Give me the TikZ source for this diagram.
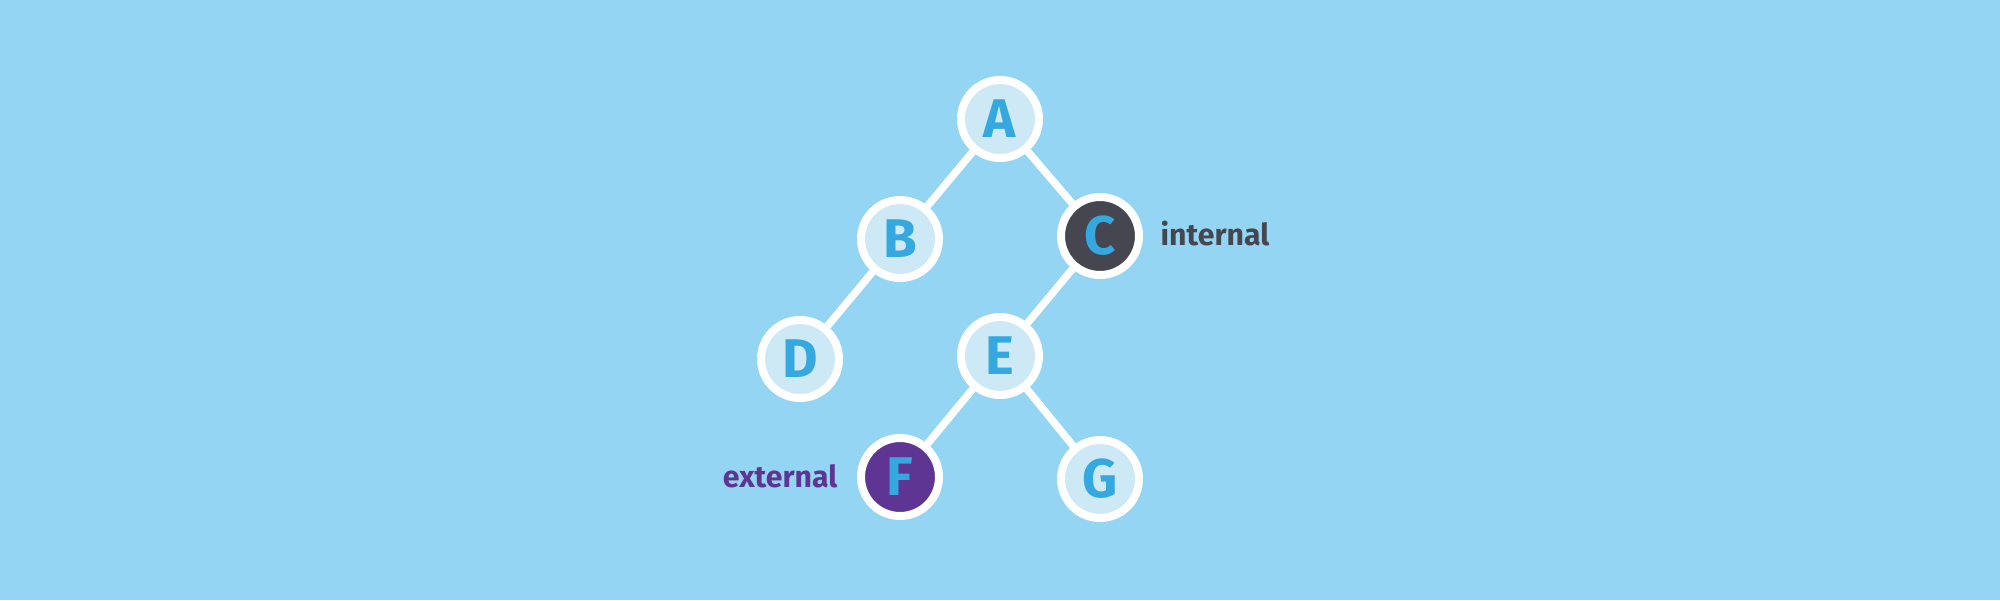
\documentclass[tikz,border=0pt]{standalone}
\usepackage{fontspec}
\newfontfamily\handfont{Fira Sans}
\definecolor{bgblue}{HTML}{93D5F2}
\definecolor{paleblue}{HTML}{CDE9F6}
\definecolor{letterblue}{HTML}{35A8E0}
\definecolor{darkgrey}{HTML}{45464F}
\definecolor{deeppurple}{HTML}{5E3592}
\tikzset{
	vertex/.style={circle, draw=white, line width=0.08cm, fill=paleblue, minimum size=0.78cm, inner sep=0pt, text=letterblue, font=\handfont\bfseries\fontsize{15.5}{15.5}\selectfont},
	branch/.style={draw=white, line width=0.075cm},
	tag/.style={inner sep=0pt, font=\handfont\bfseries\fontsize{8.6}{8.6}\selectfont}
}
\begin{document}
\begin{tikzpicture}
		\fill[bgblue] (0,0) rectangle (20,6);
		\useasboundingbox (0,0) rectangle (20,6);
		%%%
		\node[vertex] (A) at (10,4.81) {A};
		\node[vertex] (B) at (9,3.61) {B};
		\node[vertex, fill=darkgrey] (C) at (11,3.64) {C};
		\node[vertex] (D) at (8,2.41) {D};
		\node[vertex] (E) at (10,2.44) {E};
		\node[vertex, fill=deeppurple] (F) at (9,1.23) {F};
		\node[vertex] (G) at (11,1.21) {G};
		%%%
		\draw[branch] (A) -- (B);
		\draw[branch] (A) -- (C);
		\draw[branch] (B) -- (D);
		\draw[branch] (C) -- (E);
		\draw[branch] (E) -- (F);
		\draw[branch] (E) -- (G);
		%%%
		\node[tag, text=darkgrey, anchor=base west] (internal) at (11.6,3.55) {internal};
		\node[tag, text=deeppurple, anchor=base east] (external) at (8.38,1.13) {external};
	\end{tikzpicture}
\end{document}
